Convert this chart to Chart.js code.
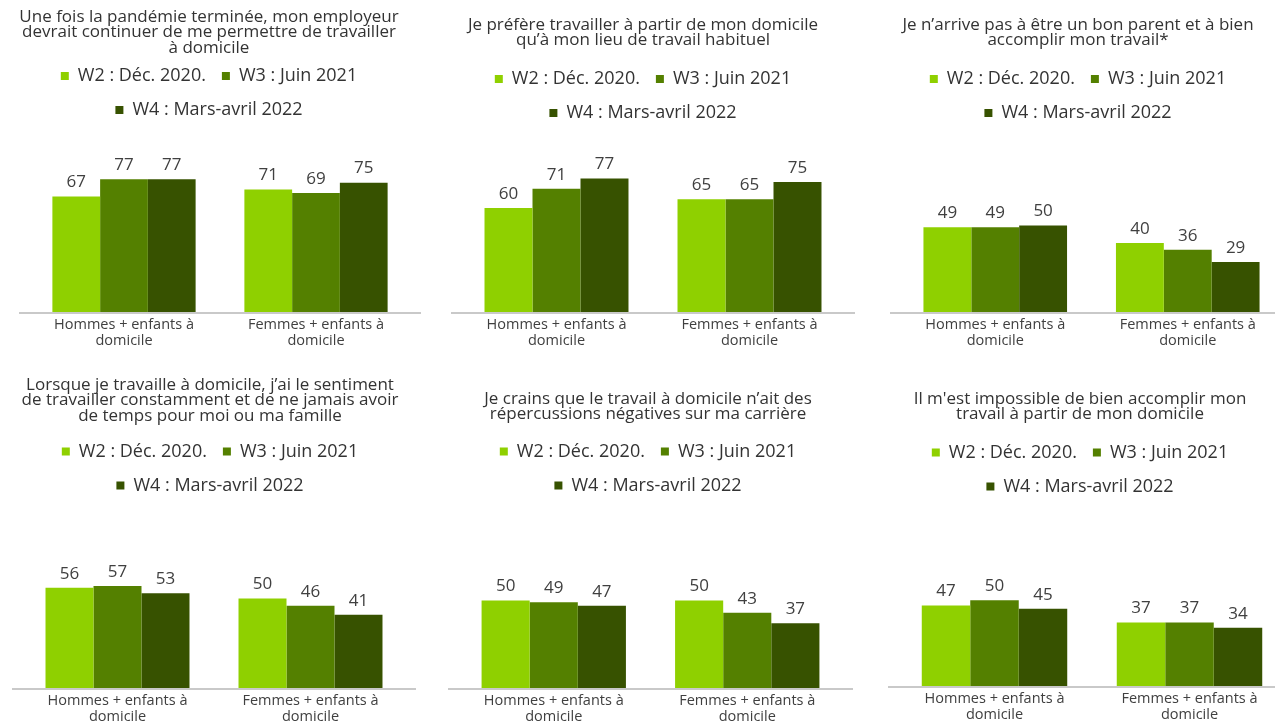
<!DOCTYPE html>
<html>
<head>
<meta charset="utf-8">
<script src="https://cdn.jsdelivr.net/npm/chart.js@4"></script>
<style>
html, body { margin: 0; padding: 0; background: #fff; overflow: hidden; width: 1275px; height: 721px; }
canvas { position: absolute; }
</style>
</head>
<body>
<script>
/* donnees */
const categories = [['Hommes + enfants à', 'domicile'], ['Femmes + enfants à', 'domicile']];
const seriesNames = ['W2 : Déc. 2020.', 'W3 : Juin 2021', 'W4 : Mars-avril 2022'];
const titles = [
    ['Une fois la pandémie terminée, mon employeur', 'devrait continuer de me permettre de travailler', 'à domicile'],
    ['Je préfère travailler à partir de mon domicile', 'qu’à mon lieu de travail habituel'],
    ['Je n’arrive pas à être un bon parent et à bien', 'accomplir mon travail*'],
    ['Lorsque je travaille à domicile, j’ai le sentiment', 'de travailler constamment et de ne jamais avoir', 'de temps pour moi ou ma famille'],
    ['Je crains que le travail à domicile n’ait des', 'répercussions négatives sur ma carrière'],
    ["Il m'est impossible de bien accomplir mon", 'travail à partir de mon domicile']
];
const w2 = [[67, 71], [60, 65], [49, 40], [56, 50], [50, 50], [47, 37]];
const w3 = [[77, 69], [71, 65], [49, 36], [57, 46], [49, 43], [50, 37]];
const w4 = [[77, 75], [77, 75], [50, 29], [53, 41], [47, 37], [45, 34]];

const colors = ['#8fd000', '#548000', '#375200'];

// position of each panel on the page
const panels = [
    {x: -4,  y: 0,   h: 360, l: 32, r: 10, tt: 9,  tb: -4.5, axis: 312, scale: 1.725},
    {x: 430, y: 0,   h: 360, l: 30, r: 10, tt: 17, tb: 6,    axis: 312, scale: 1.735},
    {x: 865, y: 0,   h: 360, l: 34, r: 7,  tt: 17, tb: 6,    axis: 312, scale: 1.728},
    {x: -3,  y: 360, h: 375, l: 24, r: 16, tt: 17, tb: 3,    axis: 328, scale: 1.788},
    {x: 435, y: 360, h: 375, l: 22, r: 17, tt: 31, tb: 4.5,  axis: 328, scale: 1.75},
    {x: 867, y: 360, h: 375, l: 30, r: 6,  tt: 31, tb: 5.5,  axis: 326, scale: 1.715}
];

Chart.defaults.font.family = '"Open Sans", sans-serif';

const valueLabels = {
    id: 'valueLabels',
    afterDatasetsDraw(chart) {
        const ctx = chart.ctx;
        ctx.save();
        ctx.font = '17px "Open Sans", sans-serif';
        ctx.fillStyle = '#404040';
        ctx.textAlign = 'center';
        ctx.textBaseline = 'middle';
        chart.data.datasets.forEach(function(ds, d) {
            chart.getDatasetMeta(d).data.forEach(function(bar, j) {
                ctx.fillText(ds.data[j], bar.x, bar.y - 14);
            });
        });
        ctx.restore();
    }
};

const baseline = {
    id: 'baseline',
    afterDatasetsDraw(chart) {
        const ctx = chart.ctx;
        const y0 = chart.scales.y.getPixelForValue(0) + 1;
        ctx.save();
        ctx.strokeStyle = '#c9c9c9';
        ctx.lineWidth = 2;
        ctx.beginPath();
        ctx.moveTo(chart.chartArea.left - 9, y0);
        ctx.lineTo(chart.chartArea.right + 9, y0);
        ctx.stroke();
        ctx.restore();
    }
};

function makeChart(i) {
    const p = panels[i];
    const cv = document.createElement('canvas');
    cv.width = 426;
    cv.height = p.h;
    cv.style.left = p.x + 'px';
    cv.style.top = p.y + 'px';
    document.body.appendChild(cv);

    const chart = new Chart(cv.getContext('2d'), {
        type: 'bar',
        data: {
            labels: categories,
            datasets: [
                {label: seriesNames[0], data: w2[i], backgroundColor: colors[0], borderWidth: 0},
                {label: seriesNames[1], data: w3[i], backgroundColor: colors[1], borderWidth: 0},
                {label: seriesNames[2], data: w4[i], backgroundColor: colors[2], borderWidth: 0}
            ]
        },
        options: {
            responsive: false,
            animation: false,
            layout: {padding: {top: 0, left: 0, right: 0, bottom: 10}},
            datasets: {bar: {categoryPercentage: 0.746, barPercentage: 1}},
            scales: {
                x: {
                    grid: {display: false, drawTicks: false},
                    border: {display: false},
                    ticks: {color: '#404040', padding: 5, autoSkip: false, maxRotation: 0,
                            font: {size: 14.5, lineHeight: '16px'}}
                },
                y: {
                    min: 0, max: 100,
                    ticks: {display: false}, grid: {display: false}, border: {display: false},
                    afterFit: function(s) { s.width = p.l; }
                },
                yR: {
                    position: 'right',
                    ticks: {display: false}, grid: {display: false}, border: {display: false},
                    afterFit: function(s) { s.width = p.r; }
                }
            },
            plugins: {
                title: {
                    display: true,
                    text: titles[i],
                    color: '#333333',
                    font: {size: 17, weight: 'normal', lineHeight: '15.5px'},
                    padding: {top: p.tt, bottom: p.tb}
                },
                legend: {
                    labels: {boxWidth: 8, boxHeight: 8, padding: 16, color: '#333333', font: {size: 18}}
                },
                tooltip: {enabled: false}
            }
        },
        plugins: [valueLabels, baseline]
    });

    // put the axis where it is in the picture, same px per point
    const area = chart.chartArea;
    chart.options.layout.padding.bottom = 10 + (area.bottom - p.axis);
    chart.options.scales.y.max = (p.axis - area.top) / p.scale;
    chart.update();
}

for (let i = 0; i < panels.length; i++) makeChart(i);
</script>
</body>
</html>
